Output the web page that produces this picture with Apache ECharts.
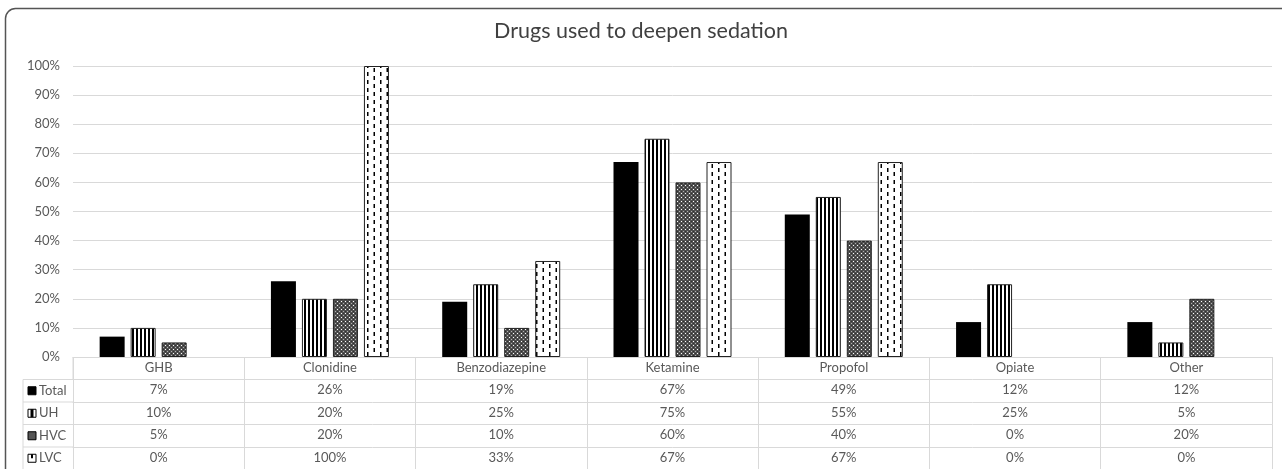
<!DOCTYPE html>
<html>
<head>
<meta charset="utf-8">
<script src="https://cdn.jsdelivr.net/npm/echarts@6/dist/echarts.min.js"></script>
<style>
html,body{margin:0;padding:0;background:#fff;}
#c{width:1282px;height:469px;}
</style>
</head>
<body>
<div id="c"></div>
<script>
var titleText = 'Drugs used to deepen sedation';
var categories = ['GHB', 'Clonidine', 'Benzodiazepine', 'Ketamine', 'Propofol', 'Opiate', 'Other'];
var seriesNames = ['Total', 'UH', 'HVC', 'LVC'];
var totalVals = [7, 26, 19, 67, 49, 12, 12];
var uhVals = [10, 20, 25, 75, 55, 25, 5];
var hvcVals = [5, 20, 10, 60, 40, 0, 20];
var lvcVals = [0, 100, 33, 67, 67, 0, 0];
var yTicks = [0, 10, 20, 30, 40, 50, 60, 70, 80, 90, 100];

var FONT = 'Lato';
var TXT = '#595959';
var LINE = '#d9d9d9';

function makeCanvas(w, h, draw) {
  var c = document.createElement('canvas');
  c.width = w; c.height = h;
  var ctx = c.getContext('2d');
  draw(ctx, w, h);
  return c;
}
var patUH = makeCanvas(4, 4, function (ctx, w, h) {
  ctx.fillStyle = '#fff'; ctx.fillRect(0, 0, w, h);
  ctx.fillStyle = '#000'; ctx.fillRect(0, 0, 2, h);
});
var patHVC = makeCanvas(4, 4, function (ctx, w, h) {
  ctx.fillStyle = '#505050'; ctx.fillRect(0, 0, w, h);
  ctx.fillStyle = '#ffffff'; ctx.fillRect(1, 1, 1, 1);
  ctx.fillStyle = '#b0b0b0'; ctx.fillRect(3, 3, 1, 1);
  ctx.fillStyle = '#303030'; ctx.fillRect(3, 1, 1, 1); ctx.fillRect(1, 3, 1, 1);
});
var patLVC = makeCanvas(13, 8, function (ctx, w, h) {
  ctx.fillStyle = '#fff'; ctx.fillRect(0, 0, w, h);
  ctx.fillStyle = '#000';
  ctx.fillRect(3, 0, 1.5, 4);
  ctx.fillRect(9.5, 4, 1.5, 4);
});

var fills = [
  '#000000',
  { image: patUH, repeat: 'repeat' },
  { image: patHVC, repeat: 'repeat' },
  { image: patLVC, repeat: 'repeat' }
];
var allVals = [totalVals, uhVals, hvcVals, lvcVals];

var GL = 73, GR = 1272, GT = 66, GB = 357;
var ROW = 22.5;

var xAxes = [{
  type: 'category', data: categories, gridIndex: 0, position: 'bottom', offset: 0,
  axisLine: { show: true, lineStyle: { color: LINE, width: 1 } },
  axisTick: { show: true, length: ROW, interval: 0, lineStyle: { color: LINE } },
  axisLabel: { interval: 0, margin: 4, color: TXT, fontSize: 13, fontFamily: FONT }
}];
allVals.forEach(function (vals, k) {
  xAxes.push({
    type: 'category', data: categories, gridIndex: 0, position: 'bottom', offset: ROW * (k + 1),
    axisLine: { show: true, lineStyle: { color: LINE, width: 1 } },
    axisTick: { show: true, length: ROW, interval: 0, lineStyle: { color: LINE } },
    axisLabel: { interval: 0, margin: 4, color: TXT, fontSize: 13, fontFamily: FONT,
      formatter: function (v, i) { return vals[i] + '%'; } }
  });
});

var series = allVals.map(function (vals, k) {
  return {
    name: seriesNames[k], type: 'bar', xAxisIndex: 0, yAxisIndex: 0,
    barWidth: 25, barGap: '24%',
    data: vals.map(function (v) { return v === 0 ? null : v; }),
    itemStyle: { color: fills[k], borderColor: k === 0 ? '#000' : '#222', borderWidth: k === 0 ? 0 : 1 }
  };
});

var graphics = [
  { type: 'rect', shape: { x: 5.5, y: 8.5, width: 1320, height: 520, r: 10 },
    style: { fill: 'none', stroke: '#555', lineWidth: 1.5 }, z: 100 }
];
var LX = 23;
graphics.push({ type: 'line', shape: { x1: LX, y1: GB + ROW, x2: LX, y2: 469 }, style: { stroke: LINE, lineWidth: 1 } });
for (var r = 1; r <= 5; r++) {
  graphics.push({ type: 'line', shape: { x1: LX, y1: GB + ROW * r, x2: GL, y2: GB + ROW * r }, style: { stroke: LINE, lineWidth: 1 } });
}
graphics.push({ type: 'line', shape: { x1: GL, y1: GB, x2: GL, y2: GB + ROW }, style: { stroke: LINE, lineWidth: 1 } });
seriesNames.forEach(function (nm, k) {
  var cy = GB + ROW * (k + 1) + ROW / 2;
  graphics.push({ type: 'rect', shape: { x: 28, y: cy - 4, width: 8, height: 8 },
    style: { fill: k === 0 ? '#000' : (k === 2 ? '#555' : '#fff'), stroke: '#000', lineWidth: 1 } });
  if (k === 1) {
    graphics.push({ type: 'rect', shape: { x: 30.5, y: cy - 4, width: 3, height: 8 }, style: { fill: '#000' } });
  }
  if (k === 3) {
    graphics.push({ type: 'rect', shape: { x: 31, y: cy - 4, width: 2, height: 4 }, style: { fill: '#000' } });
  }
  graphics.push({ type: 'text', x: 39, y: cy, style: { text: nm, fill: TXT, fontSize: 13, fontFamily: FONT, textVerticalAlign: 'middle', verticalAlign: 'middle' } });
});

var chart = echarts.init(document.getElementById('c'), null, { renderer: 'canvas' });
chart.setOption({
  animation: false,
  backgroundColor: '#fff',
  title: { text: titleText, left: 'center', top: 15,
    textStyle: { color: '#404040', fontSize: 21.5, fontWeight: 'normal', fontFamily: FONT } },
  grid: { left: GL, right: 1282 - GR, top: GT, bottom: 469 - GB, containLabel: false, outerBoundsMode: 'none' },
  xAxis: xAxes,
  yAxis: {
    type: 'value', min: 0, max: 100, interval: 10,
    axisLine: { show: false }, axisTick: { show: false },
    axisLabel: { margin: 13, color: TXT, fontSize: 13, fontFamily: FONT, formatter: function (v) { return v + '%'; } },
    splitLine: { lineStyle: { color: LINE, width: 1 } }
  },
  series: series,
  graphic: graphics
});
</script>
</body>
</html>
